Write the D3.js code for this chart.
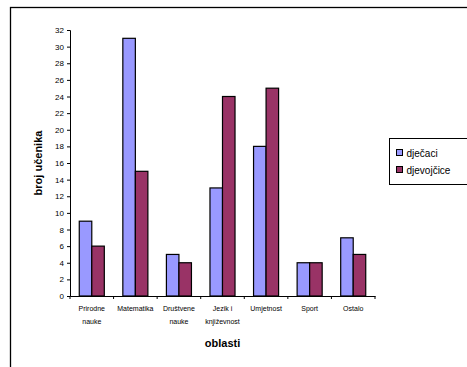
<!DOCTYPE html>
<html>
<head>
<meta charset="utf-8">
<script src="https://cdn.jsdelivr.net/npm/d3@7"></script>
<style>
  body { margin: 0; background: #fff; }
  svg { font-family: Arial, "Liberation Sans", sans-serif; }
</style>
</head>
<body>
<div id="chart"></div>
<script>
const categories = [["Prirodne", "nauke"], ["Matematika"], ["Društvene", "nauke"], ["Jezik i", "književnost"], ["Umjetnost"], ["Sport"], ["Ostalo"]];
const seriesNames = ["dječaci", "djevojčice"];
const djecaci = [9, 31, 5, 13, 18, 4, 7];
const djevojcice = [6, 15, 4, 24, 25, 4, 5];
const yTicks = d3.range(0, 33, 2);
const colors = ["#9999ff", "#993366"];

const width = 467, height = 367;
const margin = { top: 30, right: 92, bottom: 71, left: 70 };

const svg = d3.select("#chart").append("svg")
  .attr("width", width)
  .attr("height", height);

// outer chart border
svg.append("rect")
  .attr("x", 10.5).attr("y", 7.5)
  .attr("width", 480).attr("height", 380)
  .attr("fill", "none").attr("stroke", "#000").attr("stroke-width", 1.3);

const x = d3.scaleBand()
  .domain(d3.range(categories.length))
  .range([margin.left, width - margin.right]);

const xs = d3.scaleBand()
  .domain([0, 1])
  .range([0, x.bandwidth()])
  .paddingInner(0)
  .paddingOuter(0.74);

const y = d3.scaleLinear()
  .domain([0, 32])
  .range([height - margin.bottom, margin.top]);

const data = categories.map((c, i) => [djecaci[i], djevojcice[i]]);

const groups = svg.selectAll(".grp")
  .data(data)
  .enter()
  .append("g")
  .attr("class", "grp")
  .attr("transform", (d, i) => "translate(" + x(i) + ",0)");

groups.selectAll("rect")
  .data(d => d)
  .enter()
  .append("rect")
  .attr("x", (d, j) => xs(j))
  .attr("y", d => y(d))
  .attr("width", xs.bandwidth())
  .attr("height", d => y(0) - y(d))
  .attr("fill", (d, j) => colors[j])
  .attr("stroke", "#000")
  .attr("stroke-width", 1.2);

// y axis
const yAxis = svg.append("g")
  .attr("transform", "translate(" + margin.left + ",0)")
  .call(d3.axisLeft(y).tickValues(yTicks).tickSize(3).tickPadding(3));
yAxis.select(".domain").attr("stroke", "#000");
yAxis.selectAll("text").style("font-size", "8px").attr("fill", "#000");

// x axis
const xAxis = svg.append("g")
  .attr("transform", "translate(0," + y(0) + ")")
  .call(d3.axisBottom(x).tickValues([]).tickSizeOuter(0));
xAxis.select(".domain").attr("stroke", "#000");
xAxis.selectAll(".bt")
  .data(d3.range(categories.length + 1))
  .enter()
  .append("line")
  .attr("x1", i => i < categories.length ? x(i) : x.range()[1])
  .attr("x2", i => i < categories.length ? x(i) : x.range()[1])
  .attr("y1", 0).attr("y2", 3)
  .attr("stroke", "#000");

const labels = svg.append("g");
categories.forEach((c, i) => {
  const t = labels.append("text")
    .attr("x", x(i) + x.bandwidth() / 2)
    .attr("y", y(0) + 15)
    .attr("text-anchor", "middle")
    .style("font-size", "7px")
    .attr("fill", "#000");
  c.forEach((line, k) => {
    t.append("tspan")
      .attr("x", x(i) + x.bandwidth() / 2)
      .attr("dy", k === 0 ? 0 : 12.5)
      .text(line);
  });
});

// axis titles
svg.append("text")
  .attr("transform", "translate(42," + (margin.top + (y(0) - margin.top) / 2) + ") rotate(-90)")
  .attr("text-anchor", "middle")
  .style("font-size", "11px")
  .style("font-weight", "bold")
  .text("broj učenika");

svg.append("text")
  .attr("x", (x.range()[0] + x.range()[1]) / 2)
  .attr("y", 347)
  .attr("text-anchor", "middle")
  .style("font-size", "11px")
  .style("font-weight", "bold")
  .text("oblasti");

// legend
const legend = svg.append("g").attr("transform", "translate(389.5,138.5)");
legend.append("rect")
  .attr("width", 100).attr("height", 46)
  .attr("fill", "#fff").attr("stroke", "#000");
seriesNames.forEach((s, i) => {
  legend.append("rect")
    .attr("x", 7).attr("y", 11 + i * 17)
    .attr("width", 6).attr("height", 6)
    .attr("fill", colors[i]).attr("stroke", "#000");
  legend.append("text")
    .attr("x", 17).attr("y", 18 + i * 17)
    .style("font-size", "10px")
    .text(s);
});
</script>
</body>
</html>
